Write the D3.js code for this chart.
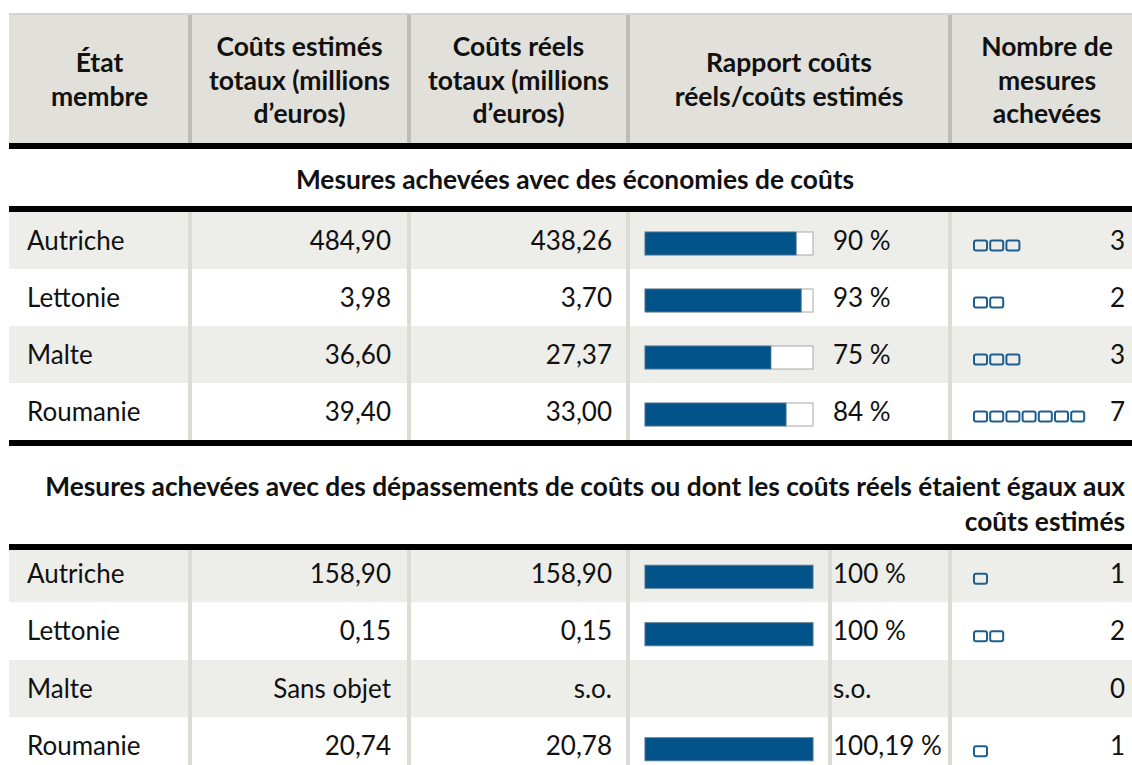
<!DOCTYPE html>
<html lang="fr">
<head>
<meta charset="utf-8">
<script src="https://cdn.jsdelivr.net/npm/d3@7"></script>
<style>
  body { margin: 0; background: #fff; }
  svg text { font-family: Lato, "Open Sans", sans-serif; fill: #111; }
  .head { font-weight: 700; font-size: 26.5px; }
  .title { font-weight: 700; font-size: 26.3px; }
  .cell { font-size: 26px; }
</style>
</head>
<body>
<svg id="chart" width="1132" height="765"></svg>
<script>
// column headers (one entry per line)
const headers = [
  ["État", "membre"],
  ["Coûts estimés", "totaux (millions", "d’euros)"],
  ["Coûts réels", "totaux (millions", "d’euros)"],
  ["Rapport coûts", "réels/coûts estimés"],
  ["Nombre de", "mesures", "achevées"]
];

const sectionTitles = [
  ["Mesures achevées avec des économies de coûts"],
  ["Mesures achevées avec des dépassements de coûts ou dont les coûts réels étaient égaux aux", "coûts estimés"]
];

const countries = ["Autriche", "Lettonie", "Malte", "Roumanie"];

// section 1 : économies de coûts
const estimated1 = [484.90, 3.98, 36.60, 39.40];
const actual1 = [438.26, 3.70, 27.37, 33.00];
const ratio1 = [90, 93, 75, 84];
const count1 = [3, 2, 3, 7];

// section 2 : dépassements / égaux (null = sans objet)
const estimated2 = [158.90, 0.15, null, 20.74];
const actual2 = [158.90, 0.15, null, 20.78];
const ratio2 = [100, 100, null, 100.19];
const count2 = [1, 2, 0, 1];

const fr = d3.formatLocale({ decimal: ",", thousands: " ", grouping: [3], currency: ["", " €"] });
const money = fr.format(".2f");
const pct = v => (Number.isInteger(v) ? fr.format("d")(v) : fr.format(".2f")(v)) + " %";

const svg = d3.select("#chart");
const W = 1132;

// column layout
const seps = [190, 409, 628, 950];
const tableLeft = 9, tableRight = 1144;
const colX = d3.scaleOrdinal().domain(d3.range(5))
  .range([[tableLeft, 190], [190, 409], [409, 628], [628, 950], [950, tableRight]]);

const barX = d3.scaleLinear().domain([0, 100]).range([0, 168]).clamp(true);
const BAR_LEFT = 645, BAR_H = 23;

// header
svg.append("line")
  .attr("x1", tableLeft).attr("x2", W).attr("y1", 14).attr("y2", 14)
  .attr("stroke", "#c4c4c0").attr("stroke-width", 1.5);
svg.append("rect")
  .attr("x", tableLeft).attr("y", 15).attr("width", W - tableLeft).attr("height", 128)
  .attr("fill", "#e1e0da");
svg.selectAll("rect.hsep").data(seps).enter().append("rect")
  .attr("class", "hsep")
  .attr("x", d => d - 2).attr("y", 15).attr("width", 4).attr("height", 128)
  .attr("fill", "#bdbdb7");

headers.forEach((lines, i) => {
  const [a, b] = colX(i);
  const cx = (a + b) / 2;
  const y0 = lines.length === 3 ? 56 : 72;
  svg.append("text").attr("class", "head")
    .attr("text-anchor", "middle")
    .selectAll("tspan").data(lines).enter().append("tspan")
    .attr("x", cx).attr("y", (d, j) => y0 + j * 33.5)
    .text(d => d);
});

function drawSection(rowTop, rowBottom, titleLines, titleY, est, act, ratio, count, extraSep) {
  const y = d3.scaleBand().domain(countries).range([rowTop, rowBottom]);

  // title
  const centred = titleLines.length === 1;
  svg.append("text").attr("class", "title")
    .attr("text-anchor", centred ? "middle" : "end")
    .selectAll("tspan").data(titleLines).enter().append("tspan")
    .attr("x", centred ? 575 : 1125).attr("y", (d, j) => titleY + j * 35)
    .text(d => d);

  const rows = svg.append("g");
  rows.selectAll("rect").data(countries).enter().append("rect")
    .attr("x", tableLeft).attr("y", d => y(d))
    .attr("width", W - tableLeft).attr("height", y.bandwidth())
    .attr("fill", (d, i) => i % 2 === 0 ? "#ededea" : "#ffffff");

  const sepList = extraSep ? seps.concat([830]) : seps;
  svg.append("g").selectAll("rect").data(sepList).enter().append("rect")
    .attr("x", d => d - 2).attr("y", rowTop)
    .attr("width", 4).attr("height", rowBottom - rowTop)
    .attr("fill", "#dcdcd5");

  const g = svg.append("g").selectAll("g").data(countries).enter().append("g")
    .attr("transform", d => `translate(0,${y(d) + y.bandwidth() / 2})`);

  g.append("text").attr("class", "cell")
    .attr("x", 27).attr("y", 9).text(d => d);

  g.append("text").attr("class", "cell")
    .attr("text-anchor", "end").attr("x", 391).attr("y", 9)
    .text((d, i) => est[i] == null ? "Sans objet" : money(est[i]));

  g.append("text").attr("class", "cell")
    .attr("text-anchor", "end").attr("x", 612).attr("y", 9)
    .text((d, i) => act[i] == null ? "s.o." : money(act[i]));

  // ratio bars
  const withBar = g.filter((d, i) => ratio[i] != null);
  withBar.append("rect")
    .attr("x", BAR_LEFT).attr("y", 3 - BAR_H / 2)
    .attr("width", barX(100)).attr("height", BAR_H)
    .attr("fill", "#fff").attr("stroke", "#a8a8a8").attr("stroke-width", 1);
  withBar.append("rect")
    .attr("x", BAR_LEFT).attr("y", 3 - BAR_H / 2)
    .attr("width", d => barX(ratio[countries.indexOf(d)])).attr("height", BAR_H)
    .attr("fill", "#02538a").attr("stroke", "#5a7f9c").attr("stroke-width", 0.8);

  g.append("text").attr("class", "cell")
    .attr("x", 833).attr("y", 9)
    .text((d, i) => ratio[i] == null ? "s.o." : pct(ratio[i]));

  // count icons
  g.each(function (d, i) {
    d3.select(this).selectAll("rect.sq").data(d3.range(count[i])).enter().append("rect")
      .attr("class", "sq")
      .attr("x", k => 974 + k * 16.2).attr("y", 0)
      .attr("width", 13).attr("height", 10).attr("rx", 2)
      .attr("fill", "none").attr("stroke", "#1c5f8e").attr("stroke-width", 2);
  });

  g.append("text").attr("class", "cell")
    .attr("text-anchor", "end").attr("x", 1125).attr("y", 9)
    .text((d, i) => count[i]);
}

drawSection(212, 440, sectionTitles[0], 189, estimated1, actual1, ratio1, count1, false);
drawSection(545, 775, sectionTitles[1], 496, estimated2, actual2, ratio2, count2, true);

// thick black rules
svg.selectAll("rect.rule").data([143, 206, 440, 544]).enter().append("rect")
  .attr("class", "rule")
  .attr("x", tableLeft).attr("y", d => d).attr("width", W - tableLeft).attr("height", 6)
  .attr("fill", "#000");
</script>
</body>
</html>
